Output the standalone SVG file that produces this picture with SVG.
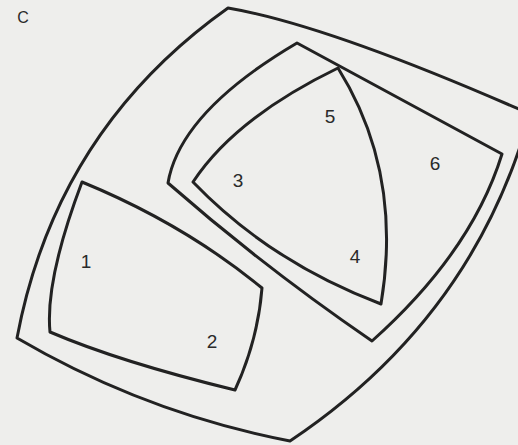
<svg xmlns="http://www.w3.org/2000/svg" width="518" height="445" viewBox="0 0 518 445">
  <style>
    .ln { fill: none; stroke: #222; stroke-width: 3; stroke-linejoin: round; }
    .lb { font-family: "Liberation Sans", Arial, sans-serif; font-size: 19px; fill: #2a2a2a; text-anchor: middle; }
  </style>
  <rect x="0" y="0" width="518" height="445" fill="#eeeeec"/>
  <g id="set-C">
    <path class="ln" d="M228,8 Q328,25 530,114 Q474,318 290,441 Q145,413 17,338 Q56,130 228,8 Z"/>
    <text class="lb" x="23" y="23" style="font-size:16px">C</text>
  </g>
  <g id="set-12">
    <path class="ln" d="M82,182 Q183.5,223.6 262,288 Q258,340 235,390 Q120,362 50,332 Q45,280 82,182 Z"/>
    <text class="lb" x="86" y="268">1</text>
    <text class="lb" x="212" y="348">2</text>
  </g>
  <g id="set-3456">
    <path class="ln" d="M168,183 Q180,112 297,43 L502,154 Q471.7,252 372,341 Q265,268 168,183 Z"/>
    <text class="lb" x="238" y="187">3</text>
    <text class="lb" x="435" y="170">6</text>
  </g>
  <g id="set-45">
    <path class="ln" d="M193,182 Q235,118 338,68 Q403,172 381,304 Q270,262 193,182 Z"/>
    <text class="lb" x="330" y="123">5</text>
    <text class="lb" x="355" y="263">4</text>
  </g>
  <g id="connectors"></g>
</svg>
